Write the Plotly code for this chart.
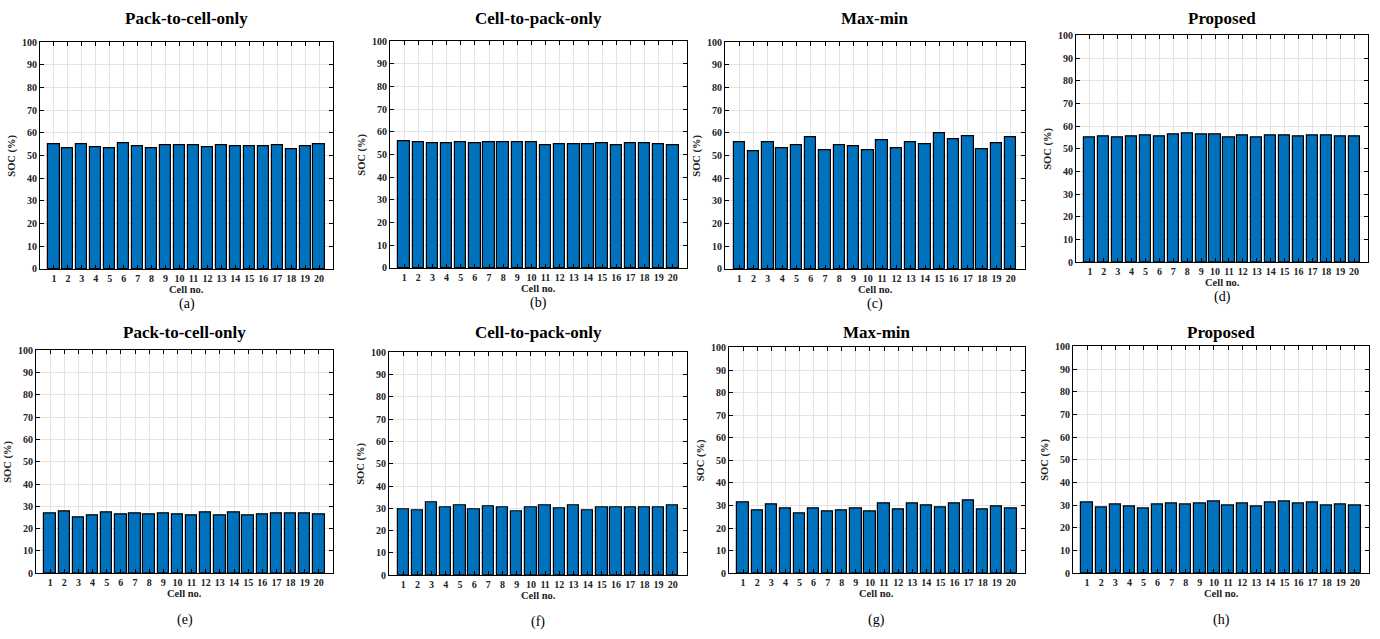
import plotly.graph_objects as go

W, H = 1380, 639

cells = list(range(1, 21))
x_ticks = [str(c) for c in cells]
y_ticks = list(range(0, 101, 10))

titles = ["Pack-to-cell-only", "Cell-to-pack-only", "Max-min", "Proposed",
          "Pack-to-cell-only", "Cell-to-pack-only", "Max-min", "Proposed"]
captions = ["(a)", "(b)", "(c)", "(d)", "(e)", "(f)", "(g)", "(h)"]

# SOC (%) of each cell, one list per strategy / scenario
soc_a = [54.8, 53.1, 54.8, 53.5, 53.1, 55.3, 54.0, 53.2, 54.4, 54.7,
         54.4, 53.8, 54.7, 54.0, 54.1, 54.1, 54.4, 53.0, 54.3, 55.0]
soc_b = [55.8, 55.3, 55.2, 55.2, 55.5, 54.8, 55.5, 55.6, 55.6, 55.3,
         54.3, 54.6, 54.5, 54.6, 54.8, 54.3, 54.8, 54.9, 54.6, 54.2]
soc_c = [56.1, 52.1, 55.7, 53.4, 54.7, 58.3, 52.4, 54.4, 54.3, 52.2,
         56.7, 53.4, 56.1, 55.0, 59.8, 57.3, 58.6, 52.7, 55.6, 58.3]
soc_d = [55.1, 55.4, 55.1, 55.3, 55.7, 55.4, 56.4, 56.9, 56.3, 56.3,
         55.1, 55.7, 55.0, 55.7, 55.7, 55.6, 55.7, 56.1, 55.3, 55.3]
soc_e = [26.7, 27.9, 24.9, 26.1, 27.3, 26.2, 27.0, 26.5, 27.0, 26.2,
         26.1, 27.1, 26.1, 27.1, 26.1, 26.5, 26.8, 26.8, 26.8, 26.5]
soc_f = [29.3, 29.0, 32.8, 30.2, 31.4, 29.5, 30.9, 30.6, 28.4, 30.5,
         31.1, 29.8, 31.1, 28.9, 30.6, 30.6, 30.6, 30.2, 30.2, 31.1]
soc_g = [31.5, 27.6, 30.5, 28.8, 26.5, 28.6, 27.5, 27.9, 28.8, 27.2,
         30.8, 28.1, 30.7, 30.2, 29.2, 31.0, 32.4, 28.2, 29.4, 28.5]
soc_h = [31.2, 28.9, 30.5, 29.3, 28.6, 30.2, 30.8, 30.1, 30.9, 31.4,
         29.9, 30.8, 29.6, 31.2, 31.4, 30.8, 31.2, 29.9, 30.1, 29.9]

series = [soc_a, soc_b, soc_c, soc_d, soc_e, soc_f, soc_g, soc_h]

# axes boxes in pixels: (left, right, top, bottom)
boxes = [(40, 333, 37, 268), (390, 687, 36, 267), (725, 1025, 37, 268), (1076, 1368, 30, 261),
         (36, 333, 351, 578), (389, 687, 353, 580), (729, 1025, 348, 578), (1073, 1369, 347, 578)]
# per-row vertical placement of the title and the caption (pixels)
title_y = [13, 333]
caption_gap = [36, 48]

SERIF = "Liberation Serif, Times New Roman, serif"

fig = go.Figure()
annotations = []


def label(text, px, py, size, angle=0, color="black"):
    return dict(text=text, x=px / W, y=1 - py / H, xref="paper", yref="paper",
                xanchor="center", yanchor="middle", showarrow=False, textangle=angle,
                font=dict(family=SERIF, size=size, color=color))


for i, (vals, box) in enumerate(zip(series, boxes)):
    n = i + 1
    row = i // 4
    xa = "x" if n == 1 else f"x{n}"
    ya = "y" if n == 1 else f"y{n}"
    l, r, t, b = box
    fig.add_trace(go.Bar(
        x=cells, y=vals, width=0.8,
        marker=dict(color="#0072BD", line=dict(color="black", width=1.2)),
        xaxis=xa, yaxis=ya, showlegend=False,
    ))
    axis_common = dict(
        showline=True, linecolor="black", linewidth=1, mirror="ticks",
        ticks="inside", ticklen=4, tickcolor="black",
        showgrid=True, gridcolor="#e3e3e3", gridwidth=1, zeroline=False,
        tickfont=dict(family=SERIF, size=10, color="#222", weight="bold"),
    )
    xkey = "xaxis" if n == 1 else f"xaxis{n}"
    ykey = "yaxis" if n == 1 else f"yaxis{n}"
    fig.update_layout(**{
        xkey: dict(axis_common, domain=[l / W, r / W], anchor=ya,
                   range=[0, 21], tickmode="array", tickvals=cells, ticktext=x_ticks),
        ykey: dict(axis_common, domain=[1 - b / H, 1 - t / H], anchor=xa,
                   range=[0, 100], tickmode="array", tickvals=y_ticks),
    })
    cx = (l + r) / 2
    annotations.append(label("<b>" + titles[i] + "</b>", cx, title_y[row], 17))
    annotations.append(label("<b>Cell no.</b>", cx, b + 21, 10.5, color="#222"))
    annotations.append(label("<b>SOC (%)</b>", l - 28, (t + b) / 2, 10.5, angle=-90, color="#222"))
    annotations.append(label(captions[i], cx, b + caption_gap[row], 14))

fig.update_layout(
    width=W, height=H, margin=dict(l=0, r=0, t=0, b=0),
    paper_bgcolor="white", plot_bgcolor="white",
    annotations=annotations, bargap=0,
)

fig.write_html("out.html")
